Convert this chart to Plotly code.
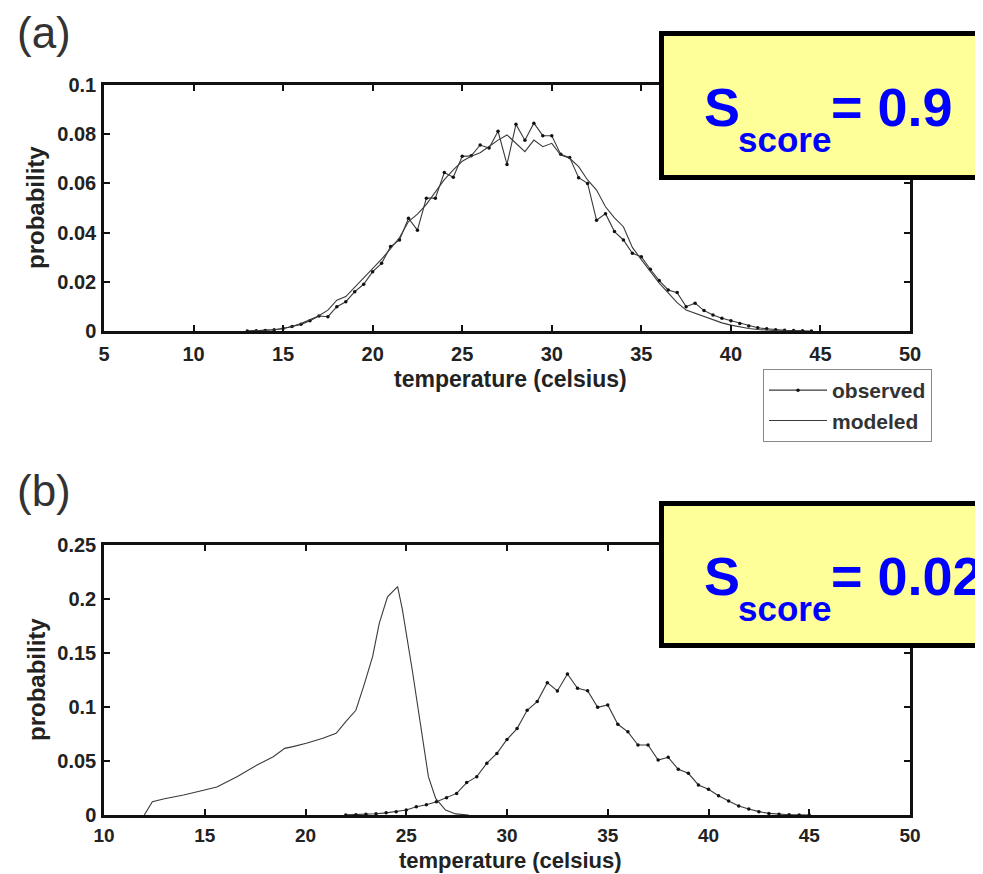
import plotly.graph_objects as go

# ---------------- data ----------------
obs_a_x = [13.0, 13.5, 14.0, 14.5, 15.0, 15.5, 16.0, 16.5, 17.0, 17.5, 18.0, 18.5, 19.0, 19.5,
           20.0, 20.5, 21.0, 21.5, 22.0, 22.5, 23.0, 23.5, 24.0, 24.5, 25.0, 25.5, 26.0, 26.5,
           27.0, 27.5, 28.0, 28.5, 29.0, 29.5, 30.0, 30.5, 31.0, 31.5, 32.0, 32.5, 33.0, 33.5,
           34.0, 34.5, 35.0, 35.5, 36.0, 36.5, 37.0, 37.5, 38.0, 38.5, 39.0, 39.5, 40.0, 40.5,
           41.0, 41.5, 42.0, 42.5, 43.0, 43.5, 44.0, 44.5]
obs_a_y = [0.0000, 0.0001, 0.0002, 0.0005, 0.0010, 0.0018, 0.0027, 0.0042, 0.0061, 0.0058,
           0.0099, 0.0119, 0.0160, 0.0190, 0.0241, 0.0275, 0.0343, 0.0370, 0.0458, 0.0410,
           0.0540, 0.0540, 0.0644, 0.0625, 0.0710, 0.0712, 0.0756, 0.0744, 0.0812, 0.0677,
           0.0840, 0.0775, 0.0845, 0.0794, 0.0794, 0.0718, 0.0705, 0.0623, 0.0600, 0.0450,
           0.0477, 0.0404, 0.0370, 0.0316, 0.0302, 0.0251, 0.0205, 0.0167, 0.0156, 0.0099,
           0.0113, 0.0083, 0.0065, 0.0052, 0.0042, 0.0030, 0.0020, 0.0013, 0.0009, 0.0005,
           0.0003, 0.0002, 0.0001, 0.0000]

mod_a_x = [13.0, 13.5, 14.0, 14.5, 15.0, 15.5, 16.0, 16.5, 17.0, 17.5, 18.0, 18.5, 19.0, 19.5,
           20.0, 20.5, 21.0, 21.5, 22.0, 22.5, 23.0, 23.5, 24.0, 24.5, 25.0, 25.5, 26.0, 26.5,
           27.0, 27.5, 28.0, 28.5, 29.0, 29.5, 30.0, 30.5, 31.0, 31.5, 32.0, 32.5, 33.0, 33.5,
           34.0, 34.5, 35.0, 35.5, 36.0, 36.5, 37.0, 37.5, 38.0, 38.5, 39.0, 39.5, 40.0, 40.5,
           41.0, 41.5, 42.0, 42.5, 43.0, 43.5, 44.0]
mod_a_y = [0.0000, 0.0001, 0.0002, 0.0005, 0.0010, 0.0018, 0.0030, 0.0045, 0.0062, 0.0085,
           0.0125, 0.0140, 0.0178, 0.0215, 0.0252, 0.0292, 0.0335, 0.0380, 0.0445, 0.0475,
           0.0515, 0.0565, 0.0615, 0.0655, 0.0690, 0.0710, 0.0725, 0.0750, 0.0776, 0.0797,
           0.0763, 0.0729, 0.0776, 0.0749, 0.0763, 0.0715, 0.0702, 0.0668, 0.0614, 0.0573,
           0.0505, 0.0460, 0.0424, 0.0340, 0.0290, 0.0240, 0.0195, 0.0155, 0.0115, 0.0085,
           0.0072, 0.0058, 0.0045, 0.0033, 0.0024, 0.0016, 0.0010, 0.0006, 0.0003, 0.0002,
           0.0001, 0.0000, 0.0000]

obs_b_x = [22.0, 22.5, 23.0, 23.5, 24.0, 24.5, 25.0, 25.5, 26.0, 26.5, 27.0, 27.5, 28.0, 28.5,
           29.0, 29.5, 30.0, 30.5, 31.0, 31.5, 32.0, 32.5, 33.0, 33.5, 34.0, 34.5, 35.0, 35.5,
           36.0, 36.5, 37.0, 37.5, 38.0, 38.5, 39.0, 39.5, 40.0, 40.5, 41.0, 41.5, 42.0, 42.5,
           43.0, 43.5, 44.0, 44.5, 45.0]
obs_b_y = [0.0001, 0.0003, 0.0006, 0.0011, 0.0020, 0.0031, 0.0046, 0.0077, 0.0095, 0.0123,
           0.0160, 0.0200, 0.0300, 0.0355, 0.0480, 0.0570, 0.0700, 0.0800, 0.0970, 0.1050,
           0.1225, 0.1148, 0.1306, 0.1173, 0.1150, 0.0997, 0.1019, 0.0840, 0.0770, 0.0648,
           0.0648, 0.0509, 0.0534, 0.0423, 0.0386, 0.0278, 0.0238, 0.0179, 0.0130, 0.0083,
           0.0056, 0.0031, 0.0015, 0.0008, 0.0003, 0.0001, 0.0000]

mod_b_x = [12.0, 12.4, 13.0, 13.95, 14.94, 15.6, 16.6, 17.57, 18.4, 18.97, 19.38, 20.04, 20.86,
           21.52, 22.0, 22.5, 22.9, 23.33, 23.66, 24.07, 24.57, 24.8, 25.3, 25.8, 26.1, 26.46,
           26.95, 27.45, 28.1]
mod_b_y = [0.0000, 0.0123, 0.0150, 0.0185, 0.0230, 0.0260, 0.0355, 0.0460, 0.0540, 0.0617,
           0.0633, 0.0664, 0.0710, 0.0756, 0.0864, 0.0970, 0.1200, 0.1466, 0.1775, 0.2020,
           0.2114, 0.1910, 0.1340, 0.0725, 0.0355, 0.0154, 0.0046, 0.0010, 0.0000]

xticks_a = [5, 10, 15, 20, 25, 30, 35, 40, 45, 50]
xticks_b = [10, 15, 20, 25, 30, 35, 40, 45, 50]
yticks_a = [0, 0.02, 0.04, 0.06, 0.08, 0.1]
yticks_b = [0, 0.05, 0.1, 0.15, 0.2, 0.25]

panel_labels = ["(a)", "(b)"]
score_values = ["= 0.9", "= 0.02"]
x_title = "temperature (celsius)"
y_title = "probability"

# ---------------- figure ----------------
PAGE_W, PAGE_H = 983, 874
OFF = 8                       # default body margin of the page
W, H = PAGE_W - OFF, PAGE_H - OFF
FONT = "Liberation Sans, Arial, Helvetica, sans-serif"
LINE = "#3a3a3a"

def px(x):
    return (x - OFF) / W

def py(y):
    return 1 - (y - OFF) / H

fig = go.Figure()

fig.add_trace(go.Scatter(x=obs_a_x, y=obs_a_y, mode="lines+markers", name="observed",
                         line=dict(color=LINE, width=1.1),
                         marker=dict(color="#111", size=3.5), xaxis="x", yaxis="y"))
fig.add_trace(go.Scatter(x=mod_a_x, y=mod_a_y, mode="lines", name="modeled",
                         line=dict(color=LINE, width=1.1), xaxis="x", yaxis="y"))
fig.add_trace(go.Scatter(x=obs_b_x, y=obs_b_y, mode="lines+markers", name="observed",
                         line=dict(color=LINE, width=1.1), showlegend=False,
                         marker=dict(color="#111", size=3.5), xaxis="x2", yaxis="y2"))
fig.add_trace(go.Scatter(x=mod_b_x, y=mod_b_y, mode="lines", name="modeled",
                         line=dict(color=LINE, width=1.1), showlegend=False,
                         xaxis="x2", yaxis="y2"))

axis_common = dict(showline=True, linecolor="#111", linewidth=2.5, mirror="ticks",
                   ticks="inside", ticklen=6, tickwidth=2, tickcolor="#111",
                   showgrid=False, zeroline=False, automargin=False)
tick_font = dict(family=FONT, size=20, color="#222", weight="bold")
tick_font_small = dict(family=FONT, size=19, color="#222", weight="bold")

xdom = [px(104), px(910)]
fig.update_layout(
    width=W, height=H,
    margin=dict(l=0, r=0, t=0, b=0, pad=0),
    paper_bgcolor="white", plot_bgcolor="white",
    font=dict(family=FONT, color="#222"),
    xaxis=dict(domain=xdom, range=[5, 50], tickvals=xticks_a, anchor="y",
               ticklabelstandoff=3, tickfont=tick_font, **axis_common),
    yaxis=dict(domain=[py(331), py(85)], range=[0, 0.1], tickvals=yticks_a, anchor="x",
               ticklabelstandoff=1, tickfont=tick_font, **axis_common),
    xaxis2=dict(domain=xdom, range=[10, 50], tickvals=xticks_b, anchor="y2",
                ticklabelstandoff=1, tickfont=tick_font_small, **axis_common),
    yaxis2=dict(domain=[py(815), py(545)], range=[0, 0.25], tickvals=yticks_b, anchor="x2",
                ticklabelstandoff=1, tickfont=tick_font, **axis_common),
    showlegend=True,
    legend=dict(x=px(763), y=py(369), xanchor="left", yanchor="top",
                bgcolor="white", bordercolor="#8a8a8a", borderwidth=1,
                font=dict(family=FONT, size=21, color="#333", weight="bold"),
                tracegroupgap=0, itemwidth=58),
)

annotations = []
# axis titles
for yc, fs in ((379, 23), (860, 22)):
    annotations.append(dict(text="<b>%s</b>" % x_title, x=px(510), y=py(yc), xref="paper",
                            yref="paper", xanchor="center", yanchor="middle", showarrow=False,
                            font=dict(family=FONT, size=fs, color="#222")))
for yc in ((85 + 331) / 2, (545 + 815) / 2):
    annotations.append(dict(text="<b>%s</b>" % y_title, x=px(36), y=py(yc), xref="paper",
                            yref="paper", xanchor="center", yanchor="middle", showarrow=False,
                            textangle=-90, font=dict(family=FONT, size=24, color="#222")))
# panel labels
for lab, yc in zip(panel_labels, (32, 491)):
    annotations.append(dict(text=lab, x=px(15), y=py(yc), xref="paper", yref="paper",
                            xanchor="left", yanchor="middle", showarrow=False,
                            font=dict(family=FONT, size=44, color="#333")))

# score boxes
shapes = []
boxes = [(31, 180), (501, 648)]
s_center = [107.5, 576]
sub_center = [140, 608]
for (y0, y1), sc, subc, val in zip(boxes, s_center, sub_center, score_values):
    shapes.append(dict(type="rect", xref="paper", yref="paper",
                       x0=px(661.5), x1=px(1000), y0=py(y1 - 2.5), y1=py(y0 + 2.5),
                       fillcolor="#FFFF99", line=dict(color="black", width=5), layer="above"))
    annotations.append(dict(text="<b>S</b>", x=px(702), y=py(sc), xref="paper", yref="paper",
                            xanchor="left", yanchor="middle", showarrow=False,
                            font=dict(family=FONT, size=54, color="#0000FF")))
    annotations.append(dict(text="<b>score</b>", x=px(736), y=py(subc), xref="paper",
                            yref="paper", xanchor="left", yanchor="middle", showarrow=False,
                            font=dict(family=FONT, size=35, color="#0000FF")))
    annotations.append(dict(text="<b>%s</b>" % val, x=px(829), y=py(sc), xref="paper",
                            yref="paper", xanchor="left", yanchor="middle", showarrow=False,
                            font=dict(family=FONT, size=54, color="#0000FF")))

fig.update_layout(annotations=annotations, shapes=shapes)

fig.write_html("out.html")
